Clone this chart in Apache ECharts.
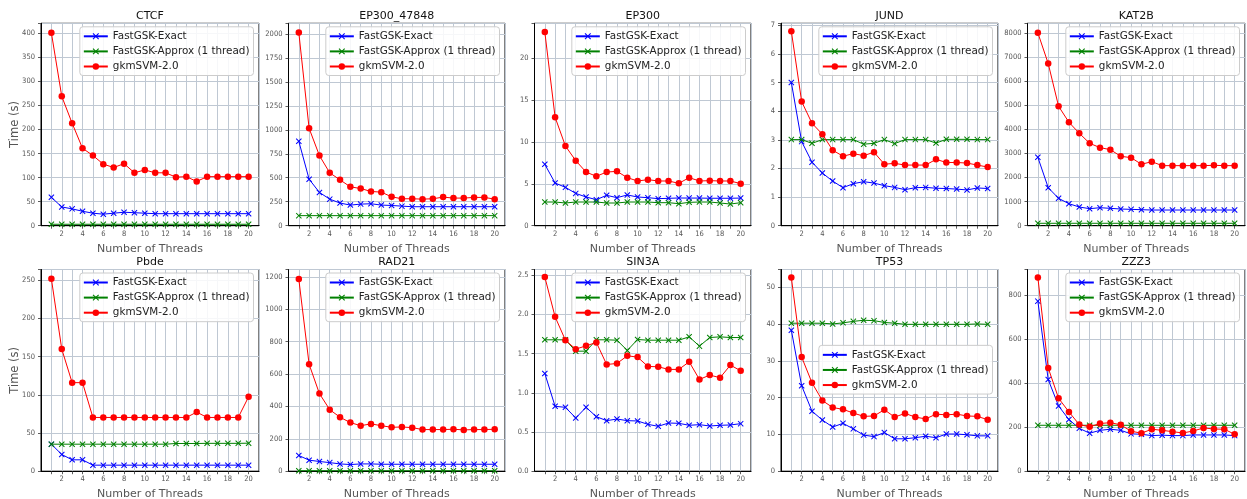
<!DOCTYPE html>
<html>
<head>
<meta charset="utf-8">
<script src="https://cdn.jsdelivr.net/npm/echarts@6/dist/echarts.min.js"></script>
<style>
html,body{margin:0;padding:0;background:#fff;}
#chart{width:1247px;height:499px;}
</style>
</head>
<body>
<div id="chart"></div>
<script>
// ---------------- DATA ----------------
const threads = [1,2,3,4,5,6,7,8,9,10,11,12,13,14,15,16,17,18,19,20];
const seriesNames = ['FastGSK-Exact', 'FastGSK-Approx (1 thread)', 'gkmSVM-2.0'];
const panelNames = ['CTCF', 'EP300_47848', 'EP300', 'JUND', 'KAT2B', 'Pbde', 'RAD21', 'SIN3A', 'TP53', 'ZZZ3'];
const yTickIntervals = [50, 250, 5, 1, 1000, 50, 200, 0.5, 10, 200];
const yTickDecimals = [0, 0, 0, 0, 0, 0, 0, 1, 0, 0];
const xTickLabels = [2, 4, 6, 8, 10, 12, 14, 16, 18, 20];

const ctcfExact  = [59,39,35,30,26,24,26,28,27,26,25,25,25,25,25,25,25,25,25,25];
const ctcfApprox = [3,3,3,3,3,3,3,3,3,3,3,3,3,3,3,3,3,3,3,3];
const ctcfGkm    = [401,269,213,161,146,128,121,129,110,116,110,110,101,102,92,102,102,102,102,102];

const ep47848Exact  = [880,485,347,277,236,215,225,229,215,211,204,198,198,198,198,198,198,198,198,198];
const ep47848Approx = [105,105,105,105,105,105,105,105,105,105,105,105,105,105,105,105,105,105,105,105];
const ep47848Gkm    = [2015,1015,731,551,478,405,388,357,350,301,281,281,277,281,298,288,288,295,295,277];

const ep300Exact  = [7.33,5.10,4.58,3.86,3.43,3.11,3.63,3.35,3.67,3.43,3.35,3.23,3.27,3.31,3.30,3.30,3.28,3.28,3.28,3.30];
const ep300Approx = [2.83,2.83,2.71,2.83,2.83,2.83,2.71,2.71,2.83,2.83,2.83,2.75,2.75,2.63,2.79,2.83,2.83,2.71,2.59,2.75];
const ep300Gkm    = [23.15,12.95,9.52,7.77,6.41,5.90,6.41,6.49,5.74,5.34,5.50,5.34,5.34,5.06,5.74,5.34,5.38,5.34,5.34,5.02];

const jundExact  = [5.01,2.94,2.22,1.84,1.56,1.33,1.47,1.54,1.49,1.40,1.34,1.26,1.33,1.34,1.31,1.30,1.28,1.25,1.32,1.30];
const jundApprox = [3.01,3.01,2.88,3.01,3.01,3.01,3.01,2.85,2.88,3.01,2.87,3.01,3.01,3.01,2.89,3.02,3.02,3.02,3.01,3.01];
const jundGkm    = [6.80,4.34,3.58,3.20,2.64,2.43,2.52,2.45,2.57,2.15,2.18,2.12,2.12,2.12,2.32,2.21,2.21,2.19,2.12,2.05];

const kat2bExact  = [2837,1578,1135,913,775,706,747,720,692,678,664,650,650,650,650,650,650,650,650,650];
const kat2bApprox = [100,100,100,100,100,100,100,100,100,100,100,100,100,100,100,100,100,100,100,100];
const kat2bGkm    = [8000,6726,4955,4290,3834,3418,3238,3155,2879,2823,2547,2657,2491,2491,2491,2491,2491,2505,2491,2491];

const pbdeExact  = [35.4,21.9,14.9,14.9,7.9,7.9,7.9,7.9,7.9,7.9,7.9,7.9,7.9,7.9,7.9,7.9,7.9,7.9,7.9,7.9];
const pbdeApprox = [35.4,35.4,35.4,35.4,35.4,35.4,35.4,35.4,35.4,35.4,35.4,35.4,36.3,36.3,36.3,36.5,36.5,36.5,36.5,36.7];
const pbdeGkm    = [252,160,116,116,70.4,70.4,70.4,70.4,70.4,70.4,70.4,70.4,70.4,70.4,77.4,70.4,70.4,70.4,70.4,97.5];

const rad21Exact  = [97,68,60,53,45,41,45,45,43,43,43,43,43,43,43,43,43,43,43,43];
const rad21Approx = [3,3,3,3,3,3,3,3,3,3,3,3,3,3,3,3,3,3,3,3];
const rad21Gkm    = [1186,660,479,380,333,300,281,292,281,271,273,269,257,257,257,259,255,257,257,259];

const sin3aExact  = [1.248,0.828,0.815,0.679,0.815,0.696,0.645,0.666,0.645,0.641,0.598,0.573,0.615,0.611,0.586,0.594,0.577,0.586,0.590,0.607];
const sin3aApprox = [1.677,1.677,1.677,1.532,1.532,1.677,1.677,1.672,1.541,1.681,1.672,1.672,1.672,1.672,1.715,1.596,1.706,1.715,1.706,1.706];
const sin3aGkm    = [2.479,1.970,1.672,1.558,1.600,1.643,1.362,1.375,1.473,1.456,1.337,1.333,1.299,1.299,1.396,1.171,1.227,1.193,1.354,1.282];

const tp53Exact  = [38.3,23.2,16.3,13.9,12.0,13.0,11.5,9.8,9.4,10.5,8.8,8.8,9.1,9.5,9.1,10.1,10.1,9.9,9.6,9.6];
const tp53Approx = [40.2,40.2,40.2,40.2,40.0,40.3,40.7,41.0,40.9,40.4,40.2,39.9,39.9,39.9,39.9,39.9,39.9,39.9,40.0,39.9];
const tp53Gkm    = [52.6,31.0,24.0,19.2,17.3,16.8,15.8,14.9,15.0,16.7,14.7,15.7,14.7,14.2,15.5,15.3,15.5,15.0,14.9,14.0];

const zzz3Exact  = [774,417,297,235,195,173,186,191,186,170,168,162,164,162,162,165,165,165,165,162];
const zzz3Approx = [209,209,209,209,209,209,209,209,209,209,209,209,209,209,209,209,209,209,209,209];
const zzz3Gkm    = [882,470,332,270,212,202,217,221,211,182,173,191,186,180,174,183,197,192,191,168];

const panelData = [
  [ctcfExact, ctcfApprox, ctcfGkm],
  [ep47848Exact, ep47848Approx, ep47848Gkm],
  [ep300Exact, ep300Approx, ep300Gkm],
  [jundExact, jundApprox, jundGkm],
  [kat2bExact, kat2bApprox, kat2bGkm],
  [pbdeExact, pbdeApprox, pbdeGkm],
  [rad21Exact, rad21Approx, rad21Gkm],
  [sin3aExact, sin3aApprox, sin3aGkm],
  [tp53Exact, tp53Approx, tp53Gkm],
  [zzz3Exact, zzz3Approx, zzz3Gkm]
];

// ---------------- LAYOUT / STYLE ----------------
const W = 1247;
const colLeft  = [41, 288.5, 534.5, 781, 1027.5];
const colRight = [259, 505, 751, 998, 1245];
const rowTop    = [23.3, 269.5];
const rowBottom = [225.7, 471.2];
const colors = ['#0000ff', '#008000', '#ff0000'];
const xSym = 'path://M0,0.12L0.12,0L0.5,0.38L0.88,0L1,0.12L0.62,0.5L1,0.88L0.88,1L0.5,0.62L0.12,1L0,0.88L0.38,0.5Z';
const symbols = [xSym, xSym, 'circle'];
const symSizes = [6, 6, 6.5];
const gridColor = '#bfc8d3';
const tickFont = "'Liberation Sans Narrow','DejaVu Sans Condensed','DejaVu Sans',sans-serif";
const mainFont = "'DejaVu Sans',sans-serif";

const grids = [], xAxes = [], yAxes = [], series = [], legends = [], graphics = [];

panelNames.forEach((name, p) => {
  const r = Math.floor(p / 5), c = p % 5;
  const L = colLeft[c], R = colRight[c], T = rowTop[r], B = rowBottom[r];
  grids.push({left: L, top: T, width: R - L, height: B - T, show: true,
    borderColor: '#000', borderWidth: 1, backgroundColor: 'transparent', outerBoundsMode: 'none', containLabel: false});

  xAxes.push({type: 'value', gridIndex: p, min: 0, max: 21, interval: 1,
    name: 'Number of Threads', nameLocation: 'middle', nameGap: 17.5, nameMoveOverlap: false,
    nameTextStyle: {fontSize: 11, color: '#555', fontFamily: mainFont},
    axisLine: {show: true, onZero: false, lineStyle: {color: '#000', width: 1}},
    axisTick: {show: true, length: 3, lineStyle: {color: '#333', width: 0.8}},
    axisLabel: {margin: 4, fontSize: 7.5, color: '#555', fontFamily: tickFont,
      showMinLabel: false, showMaxLabel: false,
      formatter: v => (xTickLabels.indexOf(v) >= 0 ? String(v) : '')},
    splitLine: {show: true, lineStyle: {color: gridColor, width: 1}}
  });

  const all = panelData[p].flat();
  const dmax = Math.max(...all), dmin = Math.min(...all);
  const ymax = dmax + 0.05 * (dmax - dmin);
  const iv = yTickIntervals[p], dec = yTickDecimals[p];
  yAxes.push({type: 'value', gridIndex: p, min: 0, max: ymax, interval: iv,
    name: c === 0 ? 'Time (s)' : '', nameLocation: 'middle', nameGap: 20, nameRotate: 90, nameMoveOverlap: false,
    nameTextStyle: {fontSize: 11.5, color: '#555', fontFamily: mainFont},
    axisLine: {show: true, onZero: false, lineStyle: {color: '#000', width: 1}},
    axisTick: {show: true, length: 3, lineStyle: {color: '#333', width: 0.8}},
    axisLabel: {margin: 6, fontSize: 7.5, color: '#555', fontFamily: tickFont,
      formatter: v => {
        const k = v / iv;
        if (Math.abs(k - Math.round(k)) > 1e-6) return '';
        return (Math.round(k) * iv).toFixed(dec);
      }},
    splitLine: {show: true, lineStyle: {color: gridColor, width: 1}}
  });

  panelData[p].forEach((vals, s) => {
    series.push({type: 'line', name: seriesNames[s], xAxisIndex: p, yAxisIndex: p,
      data: threads.map((t, i) => [t, vals[i]]),
      symbol: symbols[s], symbolSize: symSizes[s], showSymbol: true,
      lineStyle: {color: colors[s], width: 1}, itemStyle: {color: colors[s]},
      emphasis: {disabled: true}, animation: false, z: 2 + s});
  });

  const legTop = (name === 'TP53') ? ((T + B) / 2 - 25) : (T + 3.5);
  legends.push({show: true, orient: 'vertical', right: W - (R - 5.5), top: legTop,
    data: seriesNames, itemWidth: 24, itemHeight: 8, itemGap: 5.1,
    padding: [4.5, 4, 4, 3], backgroundColor: 'rgba(255,255,255,0.85)',
    borderColor: '#cccccc', borderWidth: 1, borderRadius: 3,
    textStyle: {fontSize: 10.4, color: '#222', fontFamily: mainFont},
    selectedMode: false, z: 10});

  graphics.push({type: 'text', x: (L + R) / 2, y: T - 7,
    style: {text: name, fontSize: 11, fontFamily: mainFont, fill: '#111', align: 'center', verticalAlign: 'middle'}});
});

const chart = echarts.init(document.getElementById('chart'), null, {renderer: 'canvas'});
chart.setOption({
  animation: false,
  backgroundColor: '#ffffff',
  grid: grids, xAxis: xAxes, yAxis: yAxes, series: series, legend: legends, graphic: graphics
});
</script>
</body>
</html>
